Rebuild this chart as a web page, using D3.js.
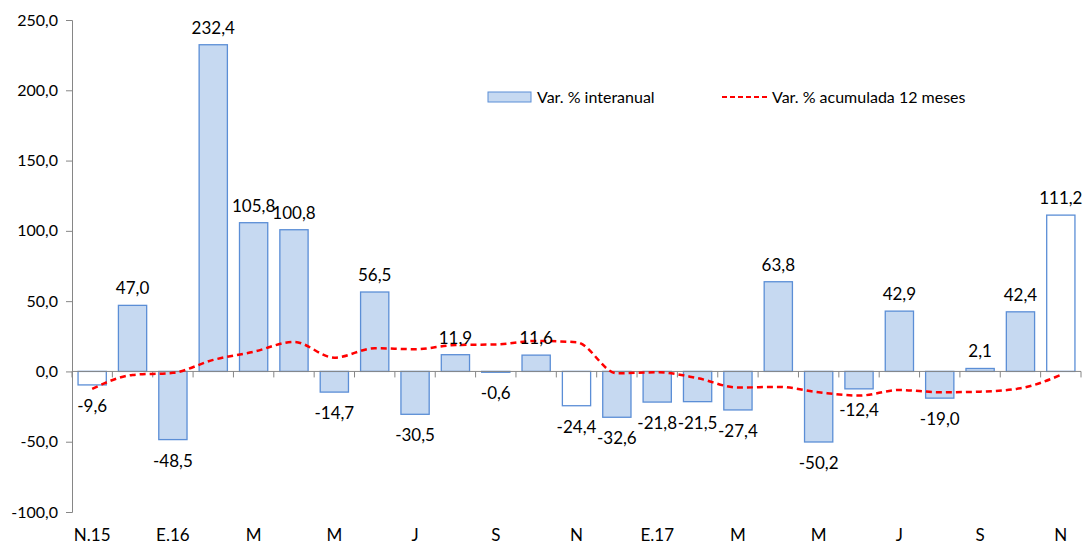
<!DOCTYPE html>
<html>
<head>
<meta charset="utf-8">
<script src="https://cdn.jsdelivr.net/npm/d3@7"></script>
<style>
  body { margin: 0; background: #fff; }
  text { font-family: Lato, "Open Sans", sans-serif; fill: #000; }
</style>
</head>
<body>
<svg id="chart" width="1083" height="548"></svg>
<script>
// months from N.15 to N.17
const months = ["N.15", "D", "E.16", "F", "M", "A", "M", "J", "J", "A", "S", "O", "N",
                "D", "E.17", "F", "M", "A", "M", "J", "J", "A", "S", "O", "N"];
const interanual = [-9.6, 47.0, -48.5, 232.4, 105.8, 100.8, -14.7, 56.5, -30.5, 11.9, -0.6, 11.6, -24.4,
                    -32.6, -21.8, -21.5, -27.4, 63.8, -50.2, -12.4, 42.9, -19.0, 2.1, 42.4, 111.2];
const acumulada = [-12.4, -2.5, -1.0, 8.2, 14.0, 21.0, 9.8, 16.5, 15.8, 18.8, 19.2, 21.7, 20.8,
                   -1.3, -0.6, -4.8, -11.5, -11.0, -14.8, -17.2, -13.2, -14.8, -14.4, -12.0, -2.5];
const yTicks = [-100, -50, 0, 50, 100, 150, 200, 250];

const svg = d3.select("#chart");
const mLeft = 72, mRight = 1081, mTop = 20, mBottom = 512;

const idx = d3.range(months.length);
const x = d3.scaleBand().domain(idx).range([mLeft, mRight]).paddingInner(0.3).paddingOuter(0.15);
const y = d3.scaleLinear().domain([-100, 250]).range([mBottom, mTop]);
const fmt = v => d3.format(".1f")(v).replace(".", ",").replace("−", "-");

// y axis
const yAxis = svg.append("g")
    .attr("transform", "translate(" + mLeft + ",0)")
    .call(d3.axisLeft(y).tickValues(yTicks).tickSize(6).tickPadding(8).tickFormat(fmt));
yAxis.select(".domain").attr("stroke", "#868686");
yAxis.selectAll(".tick line").attr("stroke", "#868686");
yAxis.selectAll("text").style("font-size", "16px").attr("fill", "#000");

// bars
svg.selectAll(".bar")
    .data(interanual)
    .enter()
    .append("rect")
    .attr("class", "bar")
    .attr("x", (d, i) => x(i))
    .attr("width", x.bandwidth())
    .attr("y", d => y(Math.max(0, d)))
    .attr("height", d => Math.abs(y(d) - y(0)))
    .attr("fill", (d, i) => months[i] === "N" || months[i] === "N.15" ? "#ffffff" : "#c6d9f1")
    .attr("stroke", "#5b8ed6")
    .attr("stroke-width", 1.3);

// zero line with category ticks
const step = x.step();
svg.append("line")
    .attr("x1", mLeft).attr("x2", mRight)
    .attr("y1", y(0)).attr("y2", y(0))
    .attr("stroke", "#868686");
svg.selectAll(".ctick")
    .data(d3.range(months.length + 1))
    .enter()
    .append("line")
    .attr("x1", i => mLeft + i * step)
    .attr("x2", i => mLeft + i * step)
    .attr("y1", y(0))
    .attr("y2", y(0) + 6)
    .attr("stroke", "#868686");

// category labels at the bottom
svg.selectAll(".clabel")
    .data(idx.filter(i => i % 2 === 0))
    .enter()
    .append("text")
    .attr("x", i => x(i) + x.bandwidth() / 2)
    .attr("y", 541)
    .attr("text-anchor", "middle")
    .style("font-size", "17px")
    .text(i => months[i]);

// accumulated line
const line = d3.line()
    .x((d, i) => x(i) + x.bandwidth() / 2)
    .y(d => y(d))
    .curve(d3.curveMonotoneX);
svg.append("path")
    .datum(acumulada)
    .attr("d", line)
    .attr("fill", "none")
    .attr("stroke", "#ff0000")
    .attr("stroke-width", 2.5)
    .attr("stroke-dasharray", "6,4");

// data labels
svg.selectAll(".dlabel")
    .data(interanual)
    .enter()
    .append("text")
    .attr("x", (d, i) => x(i) + x.bandwidth() / 2)
    .attr("y", d => d >= 0 ? y(d) - 11 : y(d) + 27)
    .attr("text-anchor", "middle")
    .style("font-size", "17px")
    .text(d => fmt(d));

// legend
const lg = svg.append("g");
lg.append("rect")
    .attr("x", 488).attr("y", 92).attr("width", 43).attr("height", 10)
    .attr("fill", "#c6d9f1").attr("stroke", "#5b8ed6");
lg.append("text").attr("x", 537).attr("y", 103).style("font-size", "16px").text("Var. % interanual");
lg.append("line")
    .attr("x1", 722).attr("x2", 768).attr("y1", 97).attr("y2", 97)
    .attr("stroke", "#ff0000").attr("stroke-width", 2).attr("stroke-dasharray", "5,3");
lg.append("text").attr("x", 772).attr("y", 103).style("font-size", "16px").text("Var. % acumulada 12 meses");
</script>
</body>
</html>
